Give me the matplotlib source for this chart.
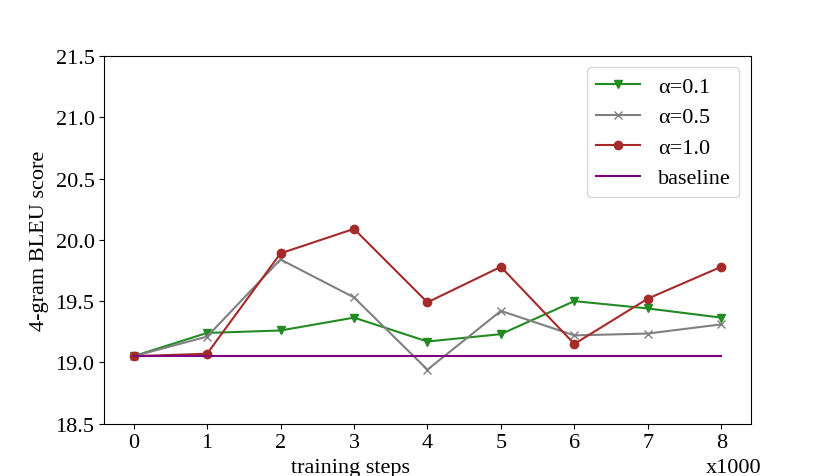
import matplotlib
matplotlib.use("Agg")
import matplotlib.pyplot as plt

steps = [0, 1, 2, 3, 4, 5, 6, 7, 8]
alpha_01 = [19.05, 19.24, 19.26, 19.365, 19.17, 19.23, 19.50, 19.44, 19.365]
alpha_05 = [19.05, 19.21, 19.84, 19.53, 18.94, 19.42, 19.22, 19.235, 19.31]
alpha_10 = [19.05, 19.07, 19.89, 20.09, 19.49, 19.78, 19.15, 19.52, 19.78]
baseline = [19.05] * 9
yticks = [18.5, 19.0, 19.5, 20.0, 20.5, 21.0, 21.5]

plt.rcParams['font.family'] = ['Liberation Serif', 'DejaVu Serif']
plt.rcParams['font.size'] = 16

fig, ax = plt.subplots(figsize=(8.34, 4.77), dpi=100)
ax.plot(steps, alpha_01, color='forestgreen', marker='v', markersize=6, lw=1.5, label='α=0.1')
ax.plot(steps, alpha_05, color='gray', marker='x', markersize=6, lw=1.5, label='α=0.5')
ax.plot(steps, alpha_10, color='brown', marker='o', markersize=6, lw=1.5, label='α=1.0')
ax.plot(steps, baseline, color='purple', lw=1.5, label='baseline')

ax.set_ylim(18.5, 21.5)
ax.set_yticks(yticks)
ax.set_yticklabels([f"{v:.1f}" for v in yticks])
ax.set_xticks(steps)
ax.set_ylabel('4-gram BLEU score', labelpad=5)
ax.text(0.381, -0.131, 'training steps', transform=ax.transAxes, ha='center', va='baseline')
ax.text(0.974, -0.131, 'x1000', transform=ax.transAxes, ha='center', va='baseline')

ax.legend(loc='upper right', numpoints=1, handlelength=2.0, labelspacing=0.45)

fig.savefig('out.png', dpi=100)
